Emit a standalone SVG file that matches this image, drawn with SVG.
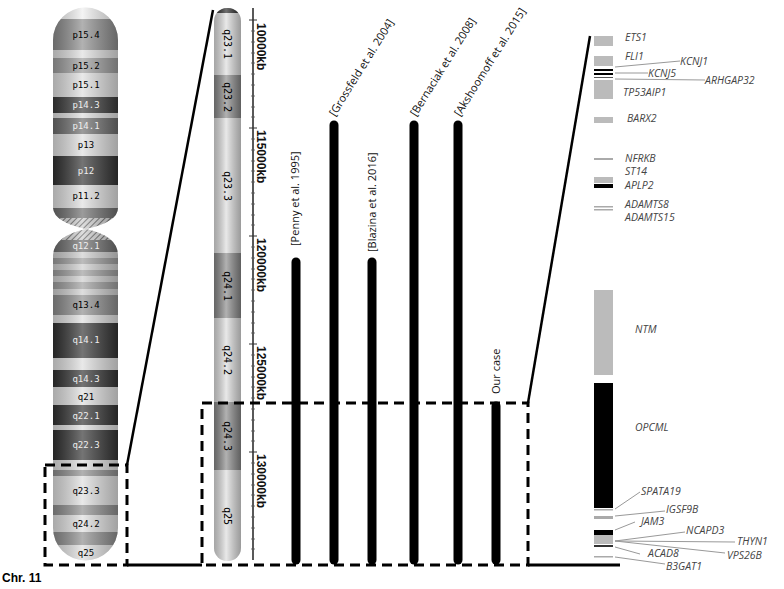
<svg xmlns="http://www.w3.org/2000/svg" width="784" height="589" viewBox="0 0 784 589">
<defs>
<linearGradient id="shade" x1="0" x2="1" y1="0" y2="0">
<stop offset="0" stop-color="#000" stop-opacity="0.25"/>
<stop offset="0.45" stop-color="#fff" stop-opacity="0.35"/>
<stop offset="1" stop-color="#000" stop-opacity="0.3"/>
</linearGradient>
<pattern id="hatch" width="4" height="4" patternUnits="userSpaceOnUse" patternTransform="rotate(45)">
<rect width="4" height="4" fill="#ccc"/><line x1="0" y1="0" x2="0" y2="4" stroke="#555" stroke-width="2"/>
</pattern>
<clipPath id="chrClip">
<path d="M53,40 A32,32 0 0 1 118,40 L118,208 Q118,222 86,229 Q54,222 53,208 Z M53,255 Q54,236 86,229 Q118,236 118,255 L118,528 A32,32 0 0 1 53,528 Z"/>
</clipPath>
<clipPath id="zClip"><rect x="214" y="8" width="27" height="553" rx="13"/></clipPath>
</defs>
<style>
.bl{font-family:"DejaVu Sans Mono","Liberation Mono",monospace;font-size:9px;text-anchor:middle}
.wl{fill:#eee}.dl{fill:#333}
.g{font-family:"Open Sans","Liberation Sans",sans-serif;font-size:10.5px;font-style:italic;fill:#444}
.ref{font-family:"Open Sans","Liberation Sans",sans-serif;font-size:11px;fill:#111}
.bar{stroke:#000;stroke-width:9;stroke-linecap:round}
.dash{fill:none;stroke:#000;stroke-width:3;stroke-dasharray:10,6}
.tick{stroke:#333;stroke-width:1}
.ax{font-family:"Liberation Sans",sans-serif;font-size:12px;font-weight:bold;fill:#111}
.lead{stroke:#999;stroke-width:1}
</style>
<g id="chromosome">
<g clip-path="url(#chrClip)">
<rect x="50" y="0" width="72" height="19" fill="#eee"/>
<rect x="50" y="19" width="72" height="31" fill="#888"/>
<rect x="50" y="50" width="72" height="8" fill="#ddd"/>
<rect x="50" y="58" width="72" height="15" fill="#999"/>
<rect x="50" y="73" width="72" height="24" fill="#ddd"/>
<rect x="50" y="97" width="72" height="16" fill="#333"/>
<rect x="50" y="113" width="72" height="5" fill="#ddd"/>
<rect x="50" y="118" width="72" height="16" fill="#666"/>
<rect x="50" y="134" width="72" height="22" fill="#ddd"/>
<rect x="50" y="156" width="72" height="29" fill="#2a2a2a"/>
<rect x="50" y="185" width="72" height="23" fill="#ddd"/>
<rect x="50" y="208" width="72" height="10" fill="#666"/>
<rect x="50" y="218" width="72" height="22" fill="url(#hatch)"/>
<rect x="50" y="240" width="72" height="12" fill="#666"/>
<rect x="50" y="252" width="72" height="6" fill="#ccc"/>
<rect x="50" y="258" width="72" height="6" fill="#999"/>
<rect x="50" y="264" width="72" height="6" fill="#ccc"/>
<rect x="50" y="270" width="72" height="6" fill="#999"/>
<rect x="50" y="276" width="72" height="6" fill="#ccc"/>
<rect x="50" y="282" width="72" height="7" fill="#999"/>
<rect x="50" y="289" width="72" height="6" fill="#ccc"/>
<rect x="50" y="295" width="72" height="20" fill="#888"/>
<rect x="50" y="315" width="72" height="8" fill="#ddd"/>
<rect x="50" y="323" width="72" height="35" fill="#2a2a2a"/>
<rect x="50" y="358" width="72" height="12" fill="#ddd"/>
<rect x="50" y="370" width="72" height="17" fill="#2a2a2a"/>
<rect x="50" y="387" width="72" height="18" fill="#ddd"/>
<rect x="50" y="405" width="72" height="20" fill="#2a2a2a"/>
<rect x="50" y="425" width="72" height="5" fill="#ddd"/>
<rect x="50" y="430" width="72" height="30" fill="#2a2a2a"/>
<rect x="50" y="460" width="72" height="10" fill="#ddd"/>
<rect x="50" y="470" width="72" height="6" fill="#888"/>
<rect x="50" y="476" width="72" height="29" fill="#ddd"/>
<rect x="50" y="505" width="72" height="10" fill="#888"/>
<rect x="50" y="515" width="72" height="17" fill="#ddd"/>
<rect x="50" y="532" width="72" height="13" fill="#888"/>
<rect x="50" y="545" width="72" height="20" fill="#ddd"/>
<rect x="50" y="0" width="72" height="570" fill="url(#shade)"/>
</g>
<text class="bl" x="86" y="38">p15.4</text>
<text class="bl" x="86" y="69">p15.2</text>
<text class="bl" x="86" y="88">p15.1</text>
<text class="bl wl" x="86" y="108">p14.3</text>
<text class="bl wl" x="86" y="129">p14.1</text>
<text class="bl" x="86" y="148">p13</text>
<text class="bl wl" x="86" y="174">p12</text>
<text class="bl" x="86" y="199">p11.2</text>
<text class="bl wl" x="86" y="249">q12.1</text>
<text class="bl" x="86" y="308">q13.4</text>
<text class="bl wl" x="86" y="343">q14.1</text>
<text class="bl wl" x="86" y="382">q14.3</text>
<text class="bl" x="86" y="400">q21</text>
<text class="bl wl" x="86" y="419">q22.1</text>
<text class="bl wl" x="86" y="448">q22.3</text>
<text class="bl" x="86" y="494">q23.3</text>
<text class="bl" x="86" y="527">q24.2</text>
<text class="bl" x="86" y="556">q25</text>
</g>
<g id="zoom-ideogram">
<g clip-path="url(#zClip)">
<rect x="214" y="8" width="27" height="5" fill="#222"/>
<rect x="214" y="13" width="27" height="62" fill="#ddd"/>
<rect x="214" y="75" width="27" height="43" fill="#888"/>
<rect x="214" y="118" width="27" height="135" fill="#ddd"/>
<rect x="214" y="253" width="27" height="65" fill="#888"/>
<rect x="214" y="318" width="27" height="84" fill="#ddd"/>
<rect x="214" y="402" width="27" height="68" fill="#888"/>
<rect x="214" y="470" width="27" height="91" fill="#ddd"/>
<rect x="214" y="8" width="27" height="553" fill="url(#shade)"/>
</g>
<g class="bl" style="font-size:10px">
<text transform="translate(224,44) rotate(90)">q23.1</text>
<text transform="translate(224,97) rotate(90)">q23.2</text>
<text transform="translate(224,186) rotate(90)">q23.3</text>
<text transform="translate(224,286) rotate(90)">q24.1</text>
<text transform="translate(224,360) rotate(90)">q24.2</text>
<text transform="translate(224,436) rotate(90)">q24.3</text>
<text transform="translate(224,516) rotate(90)">q25</text>
</g>
</g>
<g id="scale">
<line x1="253" y1="8" x2="253" y2="560" stroke="#222" stroke-width="1.5"/>
<g class="tick">
<line x1="249" y1="20" x2="257" y2="20"/><line x1="249" y1="128" x2="257" y2="128"/><line x1="249" y1="236" x2="257" y2="236"/><line x1="249" y1="344" x2="257" y2="344"/><line x1="249" y1="452" x2="257" y2="452"/>
</g>
<path stroke="#555" stroke-width="0.8" d="M251,31h4M251,42h4M251,53h4M251,63h4M251,74h4M251,85h4M251,96h4M251,107h4M251,117h4M251,139h4M251,150h4M251,161h4M251,171h4M251,182h4M251,193h4M251,204h4M251,215h4M251,225h4M251,247h4M251,258h4M251,269h4M251,279h4M251,290h4M251,301h4M251,312h4M251,323h4M251,333h4M251,355h4M251,366h4M251,377h4M251,387h4M251,398h4M251,409h4M251,420h4M251,431h4M251,441h4M251,463h4M251,474h4M251,485h4M251,495h4M251,506h4M251,517h4M251,528h4M251,539h4M251,549h4"/>
<text class="ax" transform="translate(257,23) rotate(90)">10000kb</text>
<text class="ax" transform="translate(257,130) rotate(90)">115000kb</text>
<text class="ax" transform="translate(257,238) rotate(90)">120000kb</text>
<text class="ax" transform="translate(257,346) rotate(90)">125000kb</text>
<text class="ax" transform="translate(257,454) rotate(90)">130000kb</text>
</g>
<g id="connectors">
<line x1="127" y1="465" x2="213" y2="10" stroke="#000" stroke-width="2.5"/>
<line x1="528" y1="403" x2="590" y2="36" stroke="#000" stroke-width="2.5"/>
<line x1="127" y1="565" x2="202" y2="565" stroke="#000" stroke-width="3"/>
<line x1="528" y1="565" x2="620" y2="565" stroke="#000" stroke-width="3"/>
<rect class="dash" x="45" y="465" width="82" height="100"/>
<rect class="dash" x="202" y="403" width="326" height="162"/>
</g>
<g id="cnv-bars">
<line class="bar" x1="296" y1="262" x2="296" y2="560"/>
<line class="bar" x1="334" y1="125" x2="334" y2="560"/>
<line class="bar" x1="372" y1="262" x2="372" y2="560"/>
<line class="bar" x1="414" y1="125" x2="414" y2="560"/>
<line class="bar" x1="458" y1="125" x2="458" y2="560"/>
<line class="bar" x1="496" y1="406" x2="496" y2="560"/>
<text class="ref" transform="translate(299,246) rotate(-90)">[Penny et al. 1995]</text>
<text class="ref" transform="translate(335,117) rotate(-58)">[Grossfeld et al. 2004]</text>
<text class="ref" transform="translate(376,252) rotate(-90)">[Blazina et al. 2016]</text>
<text class="ref" transform="translate(416,117) rotate(-58)">[Bernaciak et al. 2008]</text>
<text class="ref" transform="translate(460,117) rotate(-58)">[Akshoomoff et al. 2015]</text>
<text class="ref" transform="translate(500,394) rotate(-90)">Our case</text>
</g>
<g id="genes">
<rect x="594" y="36" width="19" height="10" fill="#bbb"/>
<rect x="594" y="56" width="19" height="10" fill="#bbb"/>
<rect x="594" y="69" width="19" height="2" fill="#000"/>
<rect x="594" y="73" width="19" height="2" fill="#000"/>
<rect x="594" y="77" width="19" height="1" fill="#555"/>
<rect x="594" y="80" width="19" height="19" fill="#bbb"/>
<rect x="594" y="117" width="19" height="6" fill="#bbb"/>
<rect x="594" y="158" width="19" height="2" fill="#aaa"/>
<rect x="594" y="177" width="19" height="6" fill="#bbb"/>
<rect x="594" y="184" width="19" height="4" fill="#000"/>
<rect x="594" y="206" width="19" height="1.5" fill="#aaa"/>
<rect x="594" y="209" width="19" height="1.5" fill="#aaa"/>
<rect x="594" y="290" width="19" height="85" fill="#bbb"/>
<rect x="594" y="383" width="19" height="125" fill="#000"/>
<rect x="594" y="509" width="19" height="1.5" fill="#aaa"/>
<rect x="594" y="516" width="19" height="3" fill="#aaa"/>
<rect x="594" y="530" width="19" height="5" fill="#000"/>
<rect x="594" y="535" width="19" height="9" fill="#bbb"/>
<rect x="594" y="545" width="19" height="2" fill="#333"/>
<rect x="594" y="556" width="19" height="1.5" fill="#aaa"/>
<g class="lead">
<line x1="615" y1="67" x2="680" y2="61"/>
<line x1="615" y1="73" x2="648" y2="73"/>
<line x1="615" y1="79" x2="705" y2="80"/>
<line x1="615" y1="509" x2="640" y2="492"/>
<line x1="615" y1="516" x2="665" y2="511"/>
<line x1="615" y1="530" x2="635" y2="522"/>
<line x1="615" y1="541" x2="685" y2="532"/>
<line x1="615" y1="541" x2="735" y2="542"/>
<line x1="615" y1="541" x2="725" y2="553"/>
<line x1="615" y1="547" x2="640" y2="554"/>
<line x1="615" y1="557" x2="665" y2="564"/>
</g>
<text class="g" x="625" y="41">ETS1</text>
<text class="g" x="625" y="60">FLI1</text>
<text class="g" x="680" y="65">KCNJ1</text>
<text class="g" x="648" y="77">KCNJ5</text>
<text class="g" x="705" y="84">ARHGAP32</text>
<text class="g" x="623" y="96">TP53AIP1</text>
<text class="g" x="627" y="122">BARX2</text>
<text class="g" x="625" y="162">NFRKB</text>
<text class="g" x="625" y="175">ST14</text>
<text class="g" x="625" y="189">APLP2</text>
<text class="g" x="625" y="208">ADAMTS8</text>
<text class="g" x="625" y="221">ADAMTS15</text>
<text class="g" x="635" y="333">NTM</text>
<text class="g" x="635" y="431">OPCML</text>
<text class="g" x="641" y="495">SPATA19</text>
<text class="g" x="666" y="513">IGSF9B</text>
<text class="g" x="641" y="525">JAM3</text>
<text class="g" x="686" y="534">NCAPD3</text>
<text class="g" x="737" y="545">THYN1</text>
<text class="g" x="648" y="557">ACAD8</text>
<text class="g" x="727" y="559">VPS26B</text>
<text class="g" x="666" y="570">B3GAT1</text>
</g>
<text x="2" y="582" style="font-family:'Liberation Sans',sans-serif;font-size:12px;font-weight:bold">Chr. 11</text>
</svg>
